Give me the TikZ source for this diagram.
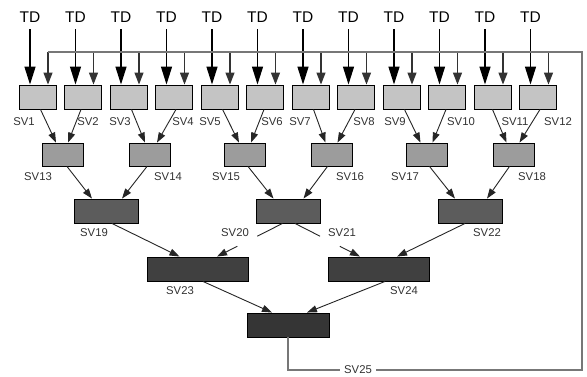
\documentclass[tikz,border=0pt]{standalone}
\usepackage{fontspec}
\setmainfont{Liberation Sans}
\usetikzlibrary{arrows.meta,calc}
\definecolor{cA}{HTML}{C4C4C4}
\definecolor{cB}{HTML}{9C9C9C}
\definecolor{cC}{HTML}{5C5C5C}
\definecolor{cD}{HTML}{404040}
\definecolor{cE}{HTML}{353535}
\definecolor{fbgray}{HTML}{777777}
\definecolor{lblgray}{HTML}{333333}
\begin{document}
\begin{tikzpicture}[x=1pt,y=-1pt,
  box/.style={draw=black,line width=0.9pt,inner sep=0pt,minimum height=24pt},
  rowa/.style={box,fill=cA,minimum width=37pt},
  rowb/.style={box,fill=cB,minimum width=41pt,minimum height=23pt},
  rowc/.style={box,fill=cC,minimum width=64pt},
  rowd/.style={box,fill=cD,minimum width=101pt},
  rowe/.style={box,fill=cE,minimum width=82pt},
  lbl/.style={font=\fontsize{11.3}{11.3}\selectfont,text=lblgray,inner sep=0pt},
  tdlbl/.style={font=\fontsize{15.5}{15.5}\selectfont,inner sep=0pt},
  tdarrow/.style={line width=1.4pt,shorten <=6pt,-{Triangle[length=18pt,width=11pt]}},
  fbarrow/.style={line width=1.2pt,draw=black!80,-{Triangle[length=12pt,width=9pt]}},
  trunk/.style={line width=1.5pt,draw=fbgray},
  flow/.style={line width=0.9pt,draw=black!85,-{Triangle[length=10pt,width=7pt]}},
  seg/.style={line width=0.9pt,draw=black!85}]
\useasboundingbox[fill=white] (0,0) rectangle (587,376);

% top row boxes, TD inputs and feedback arrows
\foreach \i in {1,...,12}{
  \pgfmathsetmacro{\cx}{37.5+45.5*(\i-1)}
  \node[rowa] (b\i) at (\cx,97) {};
  \node[tdlbl] (td\i) at (\cx-7.5,17.5) {TD};
  \draw[tdarrow] (td\i.south) -- (td\i.south |- b\i.north);
  \coordinate (fb\i) at (\cx+10.5,52);
  \draw[fbarrow] (fb\i) -- (fb\i |- b\i.north);
}

% second row
\node[rowb] (b13) at (63,154.5) {};
\node[rowb] (b14) at (150,154.5) {};
\node[rowb] (b15) at (245,154.5) {};
\node[rowb] (b16) at (331.5,154.5) {};
\node[rowb] (b17) at (426.5,154.5) {};
\node[rowb] (b18) at (513.5,154.5) {};
% third row
\node[rowc] (b19) at (106,211) {};
\node[rowc] (b20) at (288.5,211) {};
\node[rowc] (b22) at (470,211) {};
% fourth row
\node[rowd] (b23) at (197.5,269) {};
\node[rowd] (b24) at (379,269) {};
% fifth row
\node[rowe] (b25) at (288,325) {};

% labels
\foreach \n/\x in {1/24,2/88,3/120,4/183,5/210,6/272,7/300,8/364,9/395,10/461,11/515,12/558}
  \node[lbl] (l\n) at (\x,122) {SV\n};
\foreach \n/\x in {13/38,14/168,15/226,16/350,17/405,18/532}
  \node[lbl] (l\n) at (\x,177) {SV\n};
\foreach \n/\x in {19/94,20/235,21/342,22/487}
  \node[lbl] (l\n) at (\x,233) {SV\n};
\foreach \n/\x in {23/180,24/404}
  \node[lbl] (l\n) at (\x,291) {SV\n};
\node[lbl] (l25) at (358,370) {SV25};

% flows
\foreach \s/\t/\so/\to in {1/13/3/-7,2/13/-2/5,3/14/3/-5,4/14/2/7,5/15/3/-6,6/15/-1/6,
  7/16/3/-6,8/16/-1/6,9/17/3/-6,10/17/-1/6,11/18/0/-7,12/18/2/6,
  13/19/4/-14,14/19/-3/16,15/20/3/-15,16/20/-4/15,17/22/3/-15,18/22/-4/17,
  19/23/6/-18,22/24/-5/18,23/25/5.5/-16,24/25/6/19}
  \draw[flow] ($(b\s.south)+(\so,0)$) -- ($(b\t.north)+(\to,0)$);

% the two outputs of the middle box, broken by their labels
\coordinate (s20) at ($(b20.south)+(-6,0)$);
\coordinate (e20) at ($(b23.north)+(19.5,0)$);
\coordinate (s21) at ($(b20.south)+(6.5,0)$);
\coordinate (e21) at ($(b24.north)+(-19,0)$);
\draw[seg] (s20) -- ($(s20)!0.385!(e20)$);
\draw[flow] ($(s20)!0.69!(e20)$) -- (e20);
\draw[seg] (s21) -- ($(s21)!0.385!(e21)$);
\draw[flow] ($(s21)!0.69!(e21)$) -- (e21);

% feedback loop
\coordinate (cR) at (582,370);
\coordinate (cT) at (582,52);
\draw[trunk] (b25.south) -- (b25.south |- l25) -- ($(l25.west)+(-4,0)$);
\draw[trunk] ($(l25.east)+(4,0)$) -- (cR) -- (cT) -- (fb1);
\end{tikzpicture}
\end{document}
